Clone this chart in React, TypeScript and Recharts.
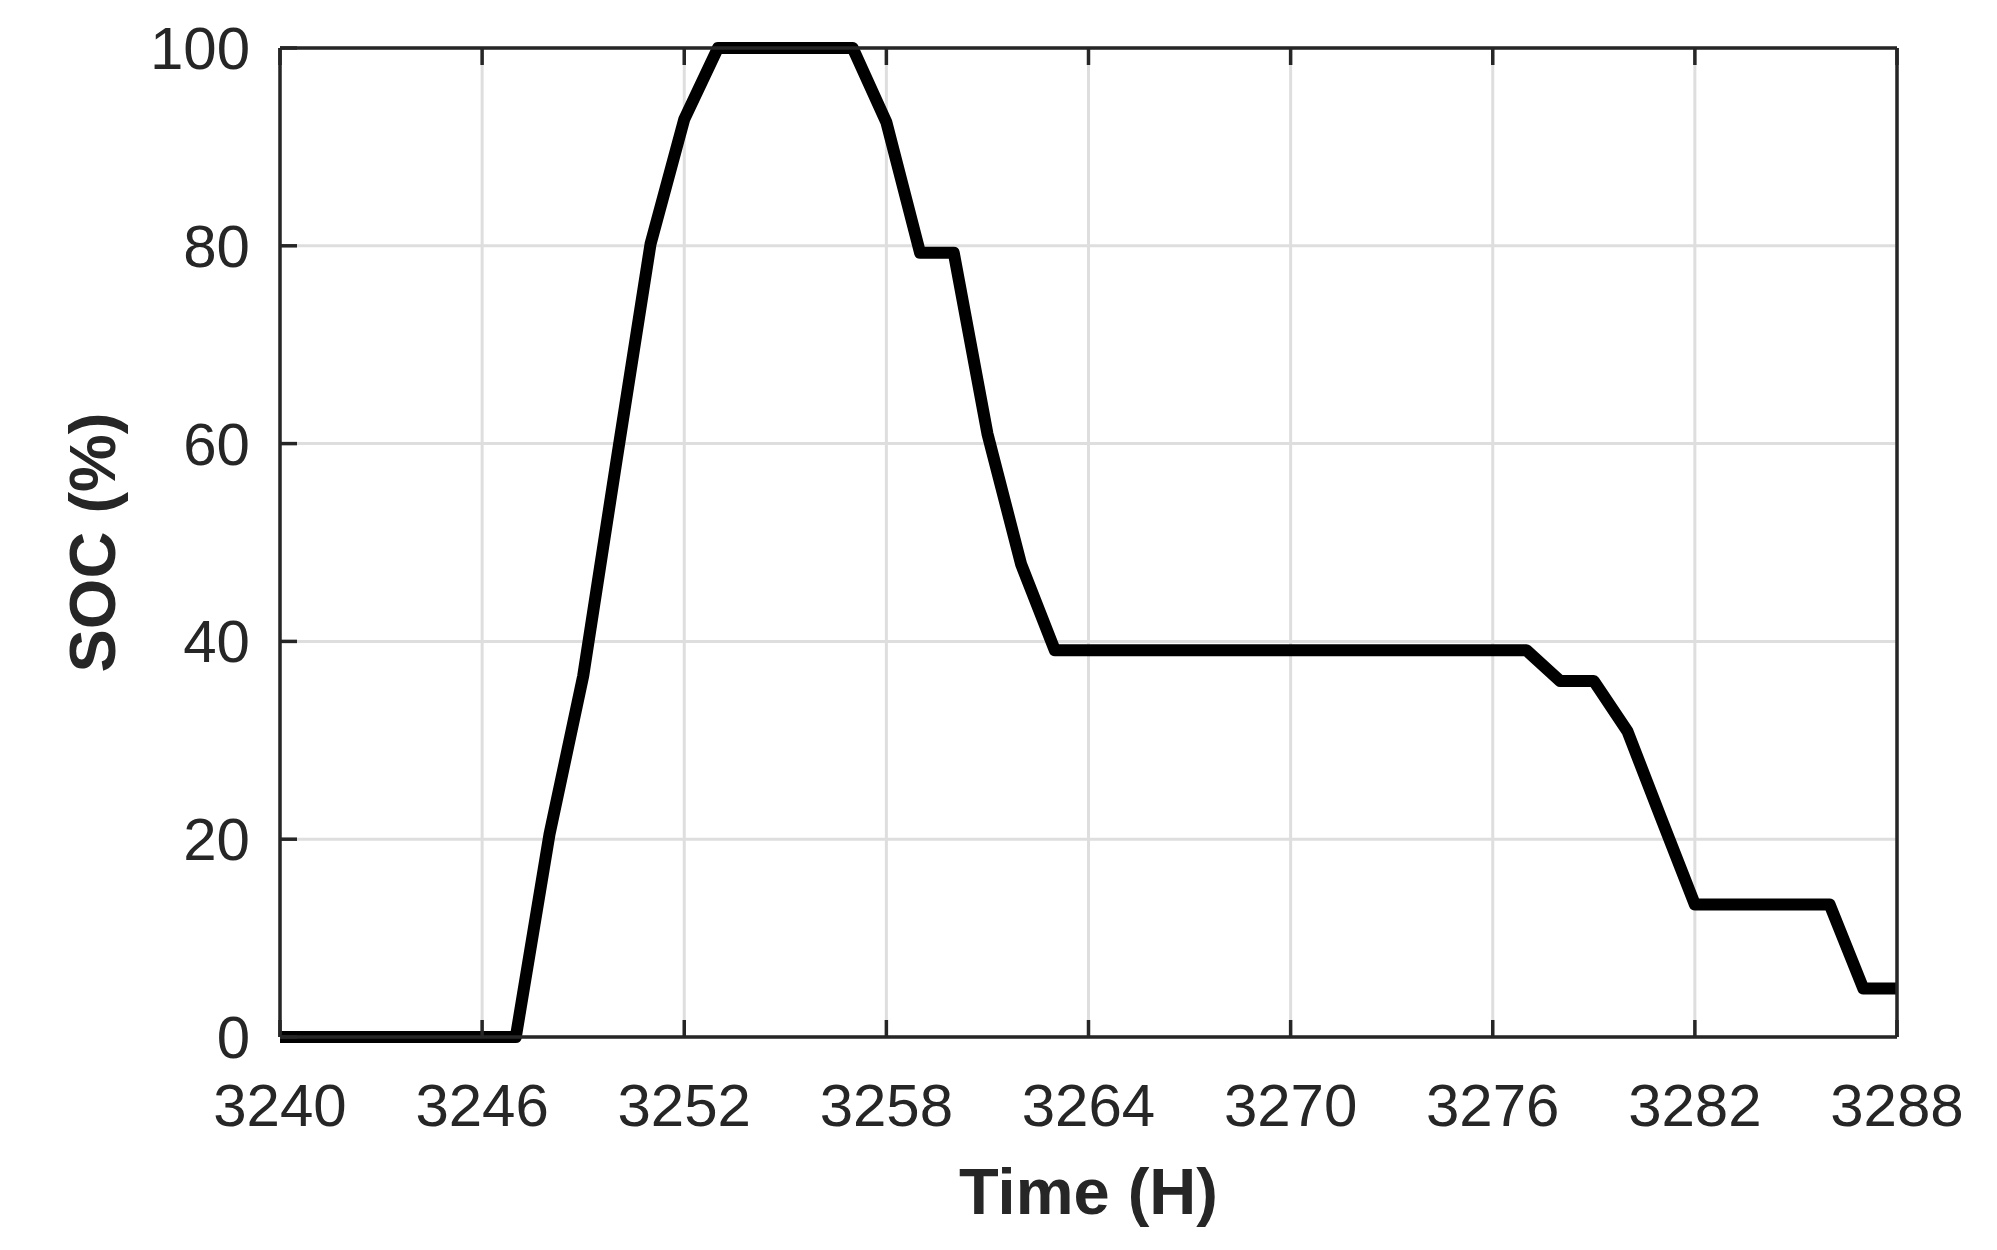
import { LineChart, Line, XAxis, YAxis, CartesianGrid } from 'recharts'

const hours = [
  3240, 3241, 3242, 3243, 3244, 3245, 3246, 3247, 3248, 3249,
  3250, 3251, 3252, 3253, 3254, 3255, 3256, 3257, 3258, 3259,
  3260, 3261, 3262, 3263, 3264, 3265, 3266, 3267, 3268, 3269,
  3270, 3271, 3272, 3273, 3274, 3275, 3276, 3277, 3278, 3279,
  3280, 3281, 3282, 3283, 3284, 3285, 3286, 3287, 3288,
]

const socValues = [
  0, 0, 0, 0, 0, 0, 0, 0, 20.5, 36.5,
  58.5, 80.2, 92.8, 100, 100, 100, 100, 100, 92.5, 79.3,
  79.3, 61.0, 47.8, 39.1, 39.1, 39.1, 39.1, 39.1, 39.1, 39.1,
  39.1, 39.1, 39.1, 39.1, 39.1, 39.1, 39.1, 39.1, 36.0, 36.0,
  30.9, 22.1, 13.4, 13.4, 13.4, 13.4, 13.4, 4.9, 4.9,
]

const xTicks = [3240, 3246, 3252, 3258, 3264, 3270, 3276, 3282, 3288]
const yTicks = [0, 20, 40, 60, 80, 100]

const data = hours.map((h, i) => ({ hour: h, soc: socValues[i] }))

const AXIS = '#262626'
const FONT = "'Liberation Sans', Arial, Helvetica, sans-serif"
const TICK_LEN = 17
const AXIS_W = 3.5

interface TickProps {
  x?: number
  y?: number
  payload?: { value: number }
}

// tick lines point inward (negative tickSize), tickMargin brings the label anchor back onto the axis
function BottomTick({ x = 0, y = 0, payload }: TickProps) {
  return (
    <text x={x} y={y + 89} textAnchor="middle" fontSize={60} fontFamily={FONT} fill={AXIS}>
      {payload?.value}
    </text>
  )
}

function LeftTick({ x = 0, y = 0, payload }: TickProps) {
  return (
    <text x={x - 30} y={y + 21} textAnchor="end" fontSize={60} fontFamily={FONT} fill={AXIS}>
      {payload?.value}
    </text>
  )
}

function NoLabel() {
  return <g />
}

const axisLine = { stroke: AXIS, strokeWidth: AXIS_W }
const tickLine = { stroke: AXIS, strokeWidth: AXIS_W }

export default function App() {
  return (
    <div style={{ position: 'absolute', left: 0, top: 0, width: 1997, height: 1250, background: '#fff' }}>
      <LineChart
        width={1997}
        height={1250}
        data={data}
        margin={{ top: 47, right: 99, left: 80, bottom: 63 }}
      >
        <CartesianGrid stroke="#dedede" strokeWidth={3} />
        <XAxis
          dataKey="hour"
          type="number"
          domain={[3240, 3288]}
          ticks={xTicks}
          interval={0}
          height={150}
          tickSize={-TICK_LEN}
          tickMargin={TICK_LEN}
          tickLine={tickLine}
          tick={BottomTick}
          axisLine={axisLine}
          label={{
            content: (props: any) => {
              const vb = props.viewBox || {}
              return (
                <text
                  x={vb.x + vb.width / 2}
                  y={vb.y + 177}
                  textAnchor="middle"
                  fontSize={65}
                  fontWeight="bold"
                  fontFamily={FONT}
                  fill={AXIS}
                >
                  Time (H)
                </text>
              )
            },
          }}
        />
        <XAxis
          xAxisId="top"
          orientation="top"
          dataKey="hour"
          type="number"
          domain={[3240, 3288]}
          ticks={xTicks}
          interval={0}
          height={1}
          tickSize={-TICK_LEN}
          tickMargin={TICK_LEN}
          tickLine={tickLine}
          tick={NoLabel}
          axisLine={axisLine}
        />
        <YAxis
          type="number"
          domain={[0, 100]}
          ticks={yTicks}
          interval={0}
          width={200}
          tickSize={-TICK_LEN}
          tickMargin={TICK_LEN}
          tickLine={tickLine}
          tick={LeftTick}
          axisLine={axisLine}
          label={{
            content: (props: any) => {
              const vb = props.viewBox || {}
              const lx = vb.x + 35
              const ly = vb.y + vb.height / 2
              return (
                <text
                  x={lx}
                  y={ly}
                  transform={`rotate(-90, ${lx}, ${ly})`}
                  textAnchor="middle"
                  fontSize={65}
                  fontWeight="bold"
                  fontFamily={FONT}
                  fill={AXIS}
                >
                  SOC (%)
                </text>
              )
            },
          }}
        />
        <YAxis
          yAxisId="right"
          orientation="right"
          type="number"
          domain={[0, 100]}
          ticks={yTicks}
          interval={0}
          width={1}
          tickSize={-TICK_LEN}
          tickMargin={TICK_LEN}
          tickLine={tickLine}
          tick={NoLabel}
          axisLine={axisLine}
        />
        <Line
          type="linear"
          dataKey="soc"
          stroke="#000000"
          strokeWidth={12}
          strokeLinejoin="round"
          dot={false}
          activeDot={false}
          isAnimationActive={false}
        />
      </LineChart>
    </div>
  )
}
